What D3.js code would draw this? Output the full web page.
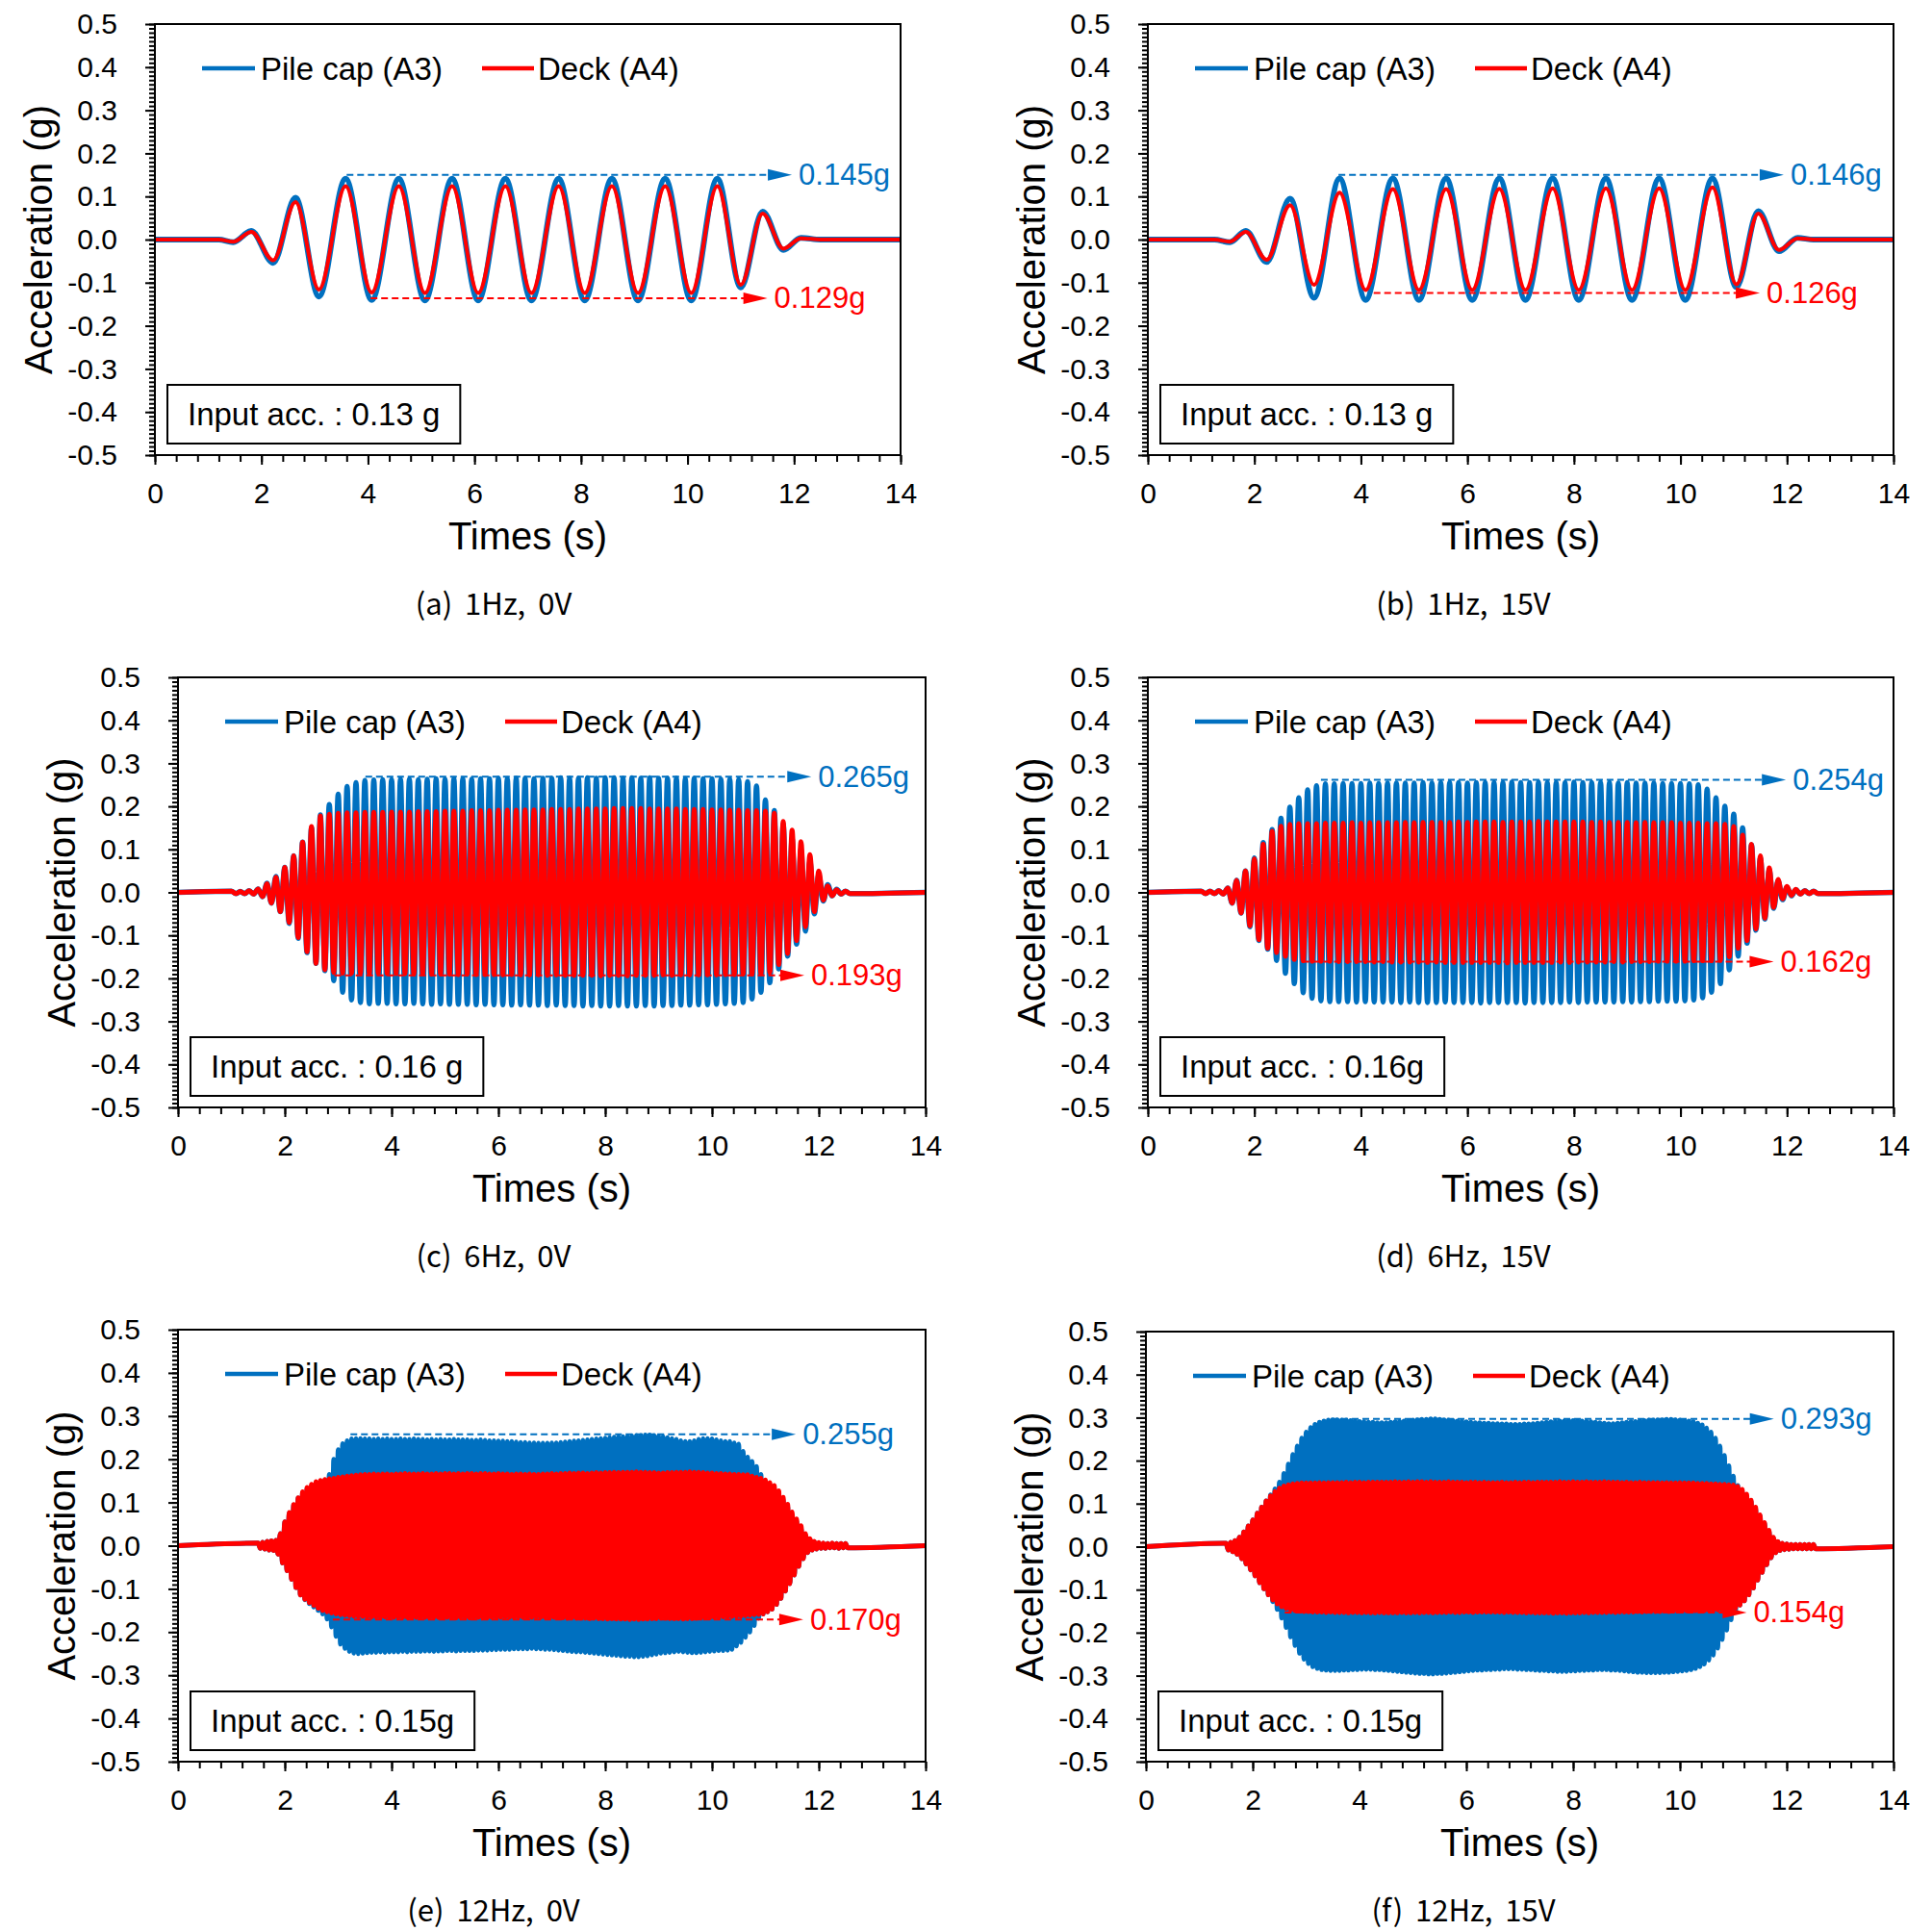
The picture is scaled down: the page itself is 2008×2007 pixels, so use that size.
<!DOCTYPE html>
<html>
<head>
<meta charset="utf-8">
<script src="https://cdn.jsdelivr.net/npm/d3@7"></script>
<style>
  body { margin: 0; background: #fff; }
  svg { display: block; }
</style>
</head>
<body>
<div id="fig"></div>
<script>
// ---- axes / labels ----
const yTicks = [-0.5, -0.4, -0.3, -0.2, -0.1, 0, 0.1, 0.2, 0.3, 0.4, 0.5];
const yTickLabels = ["-0.5", "-0.4", "-0.3", "-0.2", "-0.1", "0.0", "0.1", "0.2", "0.3", "0.4", "0.5"];
const xTicks = [0, 2, 4, 6, 8, 10, 12, 14];
const xTickLabels = ["0", "2", "4", "6", "8", "10", "12", "14"];
const seriesNames = ["Pile cap (A3)", "Deck (A4)"];
const captions = ["(a) 1Hz, 0V", "(b) 1Hz, 15V", "(c) 6Hz, 0V", "(d) 6Hz, 15V", "(e) 12Hz, 0V", "(f) 12Hz, 15V"];
const inputLabels = ["Input acc. : 0.13 g", "Input acc. : 0.13 g", "Input acc. : 0.16 g", "Input acc. : 0.16g", "Input acc. : 0.15g", "Input acc. : 0.15g"];

// ---- 1 Hz records: times of the extrema (s) and values (g) ----
const a_time = [0, 1.2, 1.47, 1.81, 2.22, 2.64, 3.08, 3.58, 4.07, 4.58, 5.07, 5.58, 6.07, 6.58, 7.07, 7.58, 8.07, 8.58, 9.07, 9.58, 10.07, 10.56, 11.0, 11.41, 11.8, 12.13, 12.5, 14];
const a_blue = [0, 0, -0.006, 0.02, -0.054, 0.097, -0.132, 0.141, -0.14, 0.141, -0.141, 0.141, -0.141, 0.141, -0.141, 0.141, -0.141, 0.141, -0.141, 0.141, -0.141, 0.141, -0.111, 0.065, -0.024, 0.004, 0, 0];
const a_red = [0, 0, -0.005, 0.018, -0.048, 0.087, -0.116, 0.124, -0.123, 0.124, -0.124, 0.124, -0.124, 0.124, -0.124, 0.124, -0.124, 0.124, -0.124, 0.124, -0.124, 0.124, -0.105, 0.06, -0.021, 0.003, 0, 0];

const b_time = [0, 1.25, 1.54, 1.84, 2.23, 2.67, 3.12, 3.6, 4.09, 4.6, 5.09, 5.6, 6.09, 6.6, 7.09, 7.6, 8.09, 8.6, 9.09, 9.6, 10.09, 10.6, 11.05, 11.46, 11.85, 12.2, 12.5, 14];
const b_blue = [0, 0, -0.006, 0.02, -0.052, 0.095, -0.135, 0.142, -0.14, 0.142, -0.14, 0.142, -0.14, 0.142, -0.14, 0.142, -0.14, 0.142, -0.14, 0.142, -0.14, 0.142, -0.11, 0.066, -0.027, 0.004, 0, 0];
const b_red = [0, 0, -0.005, 0.018, -0.047, 0.08, -0.105, 0.109, -0.117, 0.117, -0.117, 0.117, -0.117, 0.118, -0.117, 0.119, -0.117, 0.119, -0.117, 0.119, -0.117, 0.121, -0.104, 0.06, -0.024, 0.003, 0, 0];

// ---- 6 Hz records: one peak (hi) and one trough (lo) per cycle, in mg, from t0 ----
const c_t0 = 1.0, d_t0 = 1.0, freq6 = 6;
const c_blueHi = [3,2,4,8,21,37,58,85,117,150, 180,204,228,246,255,260,
  261,262,262,263,263,262,263,264,263,264, 264,263,264,264,265,264,265,265,264,265,
  265,266,265,265,266,265,266,266,265,266, 265,266,265,265,265,264,265,264,264,263, 263,
  262,257,247,215,190,158,125,100,72,40,18,7,3];
const c_blueLo = [-3,-3,-4,-10,-25,-45,-72,-107,-140,-165, -182,-205,-232,-250,-256,-259,
  -258,-258,-259,-259,-258,-259,-260,-259,-260,-260, -260,-261,-260,-261,-261,-262,-261,-262,-262,-263,
  -262,-263,-263,-264,-263,-264,-264,-263,-264,-264, -263,-264,-263,-263,-262,-262,-261,-261,-260,-259, -258,
  -256,-248,-232,-210,-178,-148,-120,-90,-50,-20,-8,-4,-3];
const c_redHi = [3,2,4,8,20,35,58,85,117,153, 178,182,184,
  185,185,186,186,186,187,187,187,188,188, 188,189,189,189,190,190,190,191,191,191,
  192,192,192,193,193,193,194,194,194,194, 195,195,195,195,194,194,194,194,193,193, 193,
  192,192,191,191,190,190,189,184,165,145,118,88,50,15,6,3];
const c_redLo = [-3,-3,-4,-10,-25,-45,-70,-105,-138,-165, -180,-186,-188,
  -188,-188,-189,-188,-189,-189,-189,-190,-189,-190, -190,-190,-191,-190,-191,-191,-191,-192,-191,-192,
  -192,-192,-193,-192,-193,-193,-193,-193,-194,-193, -193,-194,-193,-193,-193,-192,-193,-192,-192,-192, -192,
  -192,-191,-191,-190,-190,-189,-186,-168,-142,-112,-80,-45,-18,-8,-4,-3];

const d_blueHi = [3,3,4,10,28,50,80,116,146,172, 198,220,238,248,252,
  252,253,253,253,254,253,254,254,254,254, 255,254,255,255,255,254,255,255,255,255,
  256,255,255,256,255,255,255,256,255,255, 255,255,254,255,254,254,254,253,253,253, 252,
  250,240,220,200,182,150,110,80,52,27,12,6,4,3];
const d_blueLo = [-3,-3,-4,-25,-48,-80,-112,-132,-158,-188, -212,-233,-246,-252,-254,
  -254,-254,-255,-254,-255,-255,-255,-256,-255,-256, -256,-256,-255,-256,-256,-256,-257,-256,-256,-256,
  -256,-257,-256,-256,-256,-256,-255,-256,-255,-255, -255,-255,-254,-255,-254,-254,-253,-253,-253,-252, -250,
  -245,-232,-212,-180,-148,-118,-88,-62,-37,-17,-8,-4,-3,-3];
const d_redHi = [3,3,4,10,28,50,78,112,142,154, 158,160,
  160,160,161,161,161,162,161,162,162,162, 162,163,162,163,163,163,163,164,163,164,
  164,164,163,164,164,164,165,164,164,164, 164,164,163,164,163,163,163,162,163,162, 162,162,161,161,161,160,160,
  158,153,133,112,85,57,30,14,7,4,3];
const d_redLo = [-3,-3,-4,-25,-48,-78,-110,-130,-140,-149, -156,-159,
  -160,-160,-160,-161,-161,-161,-161,-162,-161,-162, -162,-162,-162,-163,-162,-163,-163,-163,-163,-163,
  -163,-163,-164,-163,-163,-163,-163,-163,-162,-163, -162,-162,-162,-162,-161,-162,-161,-161,-161,-160, -160,-160,-160,-159,-159,-159,
  -158,-150,-130,-112,-85,-60,-35,-15,-7,-4,-3,-3];

// ---- 12 Hz records: one peak (hi) and one trough (lo) per cycle, in mg, from t0 ----
const e_t0 = 1.5, f_t0 = 1.5, freq12 = 12;
const e_blueHi = [6,8,10,11,12, 28,55,76,94,110, 122,132,138,143,147, 152,165,200,222,236, 243,247,248,248,247,
  247,246,247,246,247,246,246,247,246,246,247,
  246,246,245,246,245,246,245,245,246,245,245,245,
  244,244,245,244,243,243,242,242,241,241,240,239,
  239,238,238,237,237,237,238,238,239,240,241,242,
  243,244,245,246,247,248,249,250,251,252,252,253,
  254,255,255,256,256,255,254,252,250,248,246,243,
  241,241,243,246,248,248,247,245,243,241,241,238,
  235,218, 205,195,183,165,150, 140,132,120,105,90, 72,56,40,24,14, 9,6,5,5,5,5,5,5];
const e_blueLo = [-6,-8,-10,-11,-20, -40,-58,-78,-97,-114, -125,-134,-142,-150,-158, -170,-188,-210,-228,-238, -245,-249,-250,-249,-248,
  -247,-247,-246,-247,-246,-246,-246,-245,-246,-245,-245,
  -245,-244,-244,-245,-244,-244,-243,-243,-244,-243,-243,-243,
  -243,-242,-242,-242,-241,-241,-240,-240,-240,-239,-239,-239,
  -239,-238,-239,-239,-240,-240,-241,-242,-243,-244,-245,-246,
  -246,-247,-248,-249,-250,-251,-252,-253,-254,-255,-256,-256,
  -257,-257,-256,-255,-253,-251,-249,-248,-247,-246,-245,-246,
  -247,-248,-248,-247,-246,-245,-244,-243,-243,-242,-240,-232,
  -224,-212, -200,-185,-168,-158,-153, -147,-136,-122,-105,-88, -68,-48,-30,-16,-10, -8,-6,-6,-5,-5,-6,-5,-5];
const e_redHi = [6,8,10,11,12, 28,55,77,95,111, 125,135,142,148,151, 153,155,156,158,159, 161,162,163,164,165,
  165,166,165,166,166,165,166,166,167,166,166,
  166,167,166,166,167,166,167,167,166,167,166,167,
  167,166,167,167,166,166,167,166,166,165,166,166,
  165,166,165,165,166,166,167,166,167,167,168,167,
  168,168,167,168,169,168,169,169,170,169,170,170,
  170,171,170,170,169,169,168,168,169,169,170,170,
  170,171,170,170,169,168,168,167,167,166,166,165,
  165,164, 164,161,158,156,152, 146,139,127,112,96, 78,62,46,28,16, 10,7,6,5,6,5,5,5];
const e_redLo = [-6,-8,-10,-11,-20, -40,-58,-78,-97,-114, -124,-132,-138,-145,-150, -153,-156,-158,-160,-161, -162,-163,-164,-164,-165,
  -165,-165,-166,-165,-166,-166,-165,-166,-166,-167,-166,
  -166,-166,-167,-166,-166,-167,-166,-166,-167,-166,-166,-167,
  -166,-166,-167,-167,-166,-166,-166,-165,-166,-166,-165,-166,
  -166,-166,-165,-166,-166,-167,-166,-167,-167,-168,-167,-168,
  -168,-168,-169,-168,-169,-169,-170,-169,-170,-170,-170,-171,
  -170,-171,-170,-170,-169,-169,-168,-168,-169,-169,-169,-170,
  -169,-169,-168,-168,-167,-167,-166,-166,-165,-165,-164,-164,
  -163,-162, -161,-160,-159,-158,-153, -147,-136,-122,-105,-88, -68,-48,-30,-16,-10, -8,-6,-6,-5,-5,-6,-5,-5];

const f_blueHi = [8,10,14,22,34, 48,62,78,92,106, 120,134,150,170,192, 214,234,252,266,277, 284,289,292,294,295,
  295,294,294,293,292,291,290,289,289,288,288,
  288,289,290,291,292,293,294,295,296,296,297,297,
  296,295,294,293,292,291,290,289,288,288,287,287,
  286,286,285,285,284,284,284,285,285,286,287,288,
  289,290,291,292,292,293,293,293,292,291,290,289,
  288,287,286,286,287,288,289,290,291,292,293,294,
  294,295,295,296,296,295,294,293,292,290,287,283,
  276,266, 252,234,212,188,164, 142,128,116,104,90, 72,54,36,20,11, 7,6,5,5,5,5,5,5];
const f_blueLo = [-8,-12,-18,-28,-40, -54,-68,-84,-98,-112, -128,-146,-166,-188,-210, -230,-248,-262,-272,-279, -283,-286,-287,-288,-288,
  -288,-287,-287,-286,-286,-285,-285,-285,-286,-286,-287,
  -288,-289,-290,-291,-292,-293,-294,-295,-295,-296,-296,-295,
  -295,-294,-293,-292,-291,-290,-289,-288,-287,-287,-286,-286,
  -285,-285,-284,-284,-284,-285,-285,-286,-286,-287,-288,-288,
  -289,-289,-290,-290,-290,-289,-289,-288,-288,-287,-287,-286,
  -286,-286,-287,-287,-288,-289,-290,-291,-292,-292,-293,-293,
  -293,-293,-292,-292,-291,-290,-289,-288,-286,-283,-279,-273,
  -264,-252, -236,-216,-194,-170,-150, -136,-126,-112,-96,-78, -60,-42,-26,-14,-9, -7,-6,-5,-5,-5,-5,-5,-5];
const f_redHi = [8,10,14,22,34, 48,62,78,92,106, 118,128,136,141,144, 146,147,148,148,148, 148,149,148,149,149,
  149,149,150,149,150,150,149,150,150,150,150,
  150,150,151,150,150,151,150,151,151,150,151,150,
  150,150,151,150,150,150,149,150,150,149,150,149,
  149,149,150,149,149,150,149,150,150,149,150,150,
  150,150,150,151,150,150,151,150,150,151,150,150,
  150,151,150,150,150,149,150,149,149,150,149,149,
  149,149,148,149,148,148,149,148,148,148,147,147,
  147,146, 146,145,145,144,143, 140,133,122,108,92, 74,56,38,22,12, 8,6,5,5,5,5,5,5];
const f_redLo = [-8,-12,-18,-28,-40, -54,-68,-84,-98,-112, -124,-133,-140,-144,-147, -149,-150,-151,-151,-152, -152,-152,-153,-152,-153,
  -153,-153,-154,-153,-153,-154,-153,-154,-154,-153,-154,
  -154,-154,-154,-153,-154,-154,-153,-154,-153,-153,-154,-153,
  -153,-153,-152,-153,-153,-152,-152,-153,-152,-152,-152,-152,
  -152,-152,-153,-152,-153,-153,-153,-154,-153,-154,-154,-154,
  -154,-155,-154,-154,-155,-154,-154,-154,-153,-154,-153,-153,
  -153,-153,-152,-153,-152,-152,-152,-152,-151,-152,-151,-151,
  -151,-151,-150,-151,-150,-150,-150,-149,-150,-149,-149,-149,
  -148,-148, -147,-147,-146,-145,-142, -136,-126,-112,-96,-78, -60,-42,-26,-14,-9, -7,-6,-5,-5,-5,-5,-5,-5];

// ---- peak annotations: [series, level (g), start (s), arrow tip (s), label] ----
const a_notes = [["blue", 0.150, 3.6, 11.96, "0.145g"], ["red", -0.136, 4.05, 11.5, "0.129g"]];
const b_notes = [["blue", 0.150, 3.58, 11.94, "0.146g"], ["red", -0.124, 4.24, 11.49, "0.126g"]];
const c_notes = [["blue", 0.269, 3.51, 11.86, "0.265g"], ["red", -0.193, 2.93, 11.73, "0.193g"]];
const d_notes = [["blue", 0.262, 3.25, 11.98, "0.254g"], ["red", -0.161, 2.9, 11.75, "0.162g"]];
const e_notes = [["blue", 0.258, 3.23, 11.57, "0.255g"], ["red", -0.171, 2.9, 11.71, "0.170g"]];
const f_notes = [["blue", 0.297, 3.46, 11.76, "0.293g"], ["red", -0.153, 2.6, 11.25, "0.154g"]];

// ---------------------------------------------------------------------------
const W = 2008, H = 2007;
const BLUE = "#0070C0", RED = "#FF0000";
const FONT = "'Liberation Sans', Arial, sans-serif";

const svg = d3.select("#fig").append("svg")
  .attr("width", W)
  .attr("height", H)
  .style("background", "#fff");

function pairs(times, values) {
  return times.map((t, i) => ({ t, v: values[i] }));
}

// interleave per-cycle peaks and troughs
function cycles(t0, freq, hi, lo) {
  const pts = [{ t: 0, v: 0 }];
  const n = Math.min(hi.length, lo.length);
  for (let k = 0; k < n; k++) {
    pts.push({ t: t0 + k / freq, v: hi[k] / 1000 });
    pts.push({ t: t0 + (k + 0.5) / freq, v: lo[k] / 1000 });
  }
  pts.push({ t: 14, v: 0 });
  return pts;
}

const panels = [
  { box: [161, 25, 775, 448], col: 0, blue: pairs(a_time, a_blue), red: pairs(a_time, a_red), bw: 6, rw: 4, notes: a_notes },
  { box: [1193, 25, 775, 448], col: 1, blue: pairs(b_time, b_blue), red: pairs(b_time, b_red), bw: 6, rw: 4, notes: b_notes },
  { box: [185, 704, 777, 447], col: 0, blue: cycles(c_t0, freq6, c_blueHi, c_blueLo), red: cycles(c_t0, freq6, c_redHi, c_redLo), bw: 5.5, rw: 5, notes: c_notes },
  { box: [1193, 704, 775, 447], col: 1, blue: cycles(d_t0, freq6, d_blueHi, d_blueLo), red: cycles(d_t0, freq6, d_redHi, d_redLo), bw: 5.5, rw: 5, notes: d_notes },
  { box: [185, 1382, 777, 449], col: 0, blue: cycles(e_t0, freq12, e_blueHi, e_blueLo), red: cycles(e_t0, freq12, e_redHi, e_redLo), bw: 5, rw: 5, notes: e_notes },
  { box: [1191, 1384, 777, 447], col: 1, blue: cycles(f_t0, freq12, f_blueHi, f_blueLo), red: cycles(f_t0, freq12, f_redHi, f_redLo), bw: 5, rw: 5, notes: f_notes }
];

const yMinor = d3.range(-50, 51).map(i => i / 100);
const xMinor = d3.range(0, 36).map(i => i * 0.4);

function styleAxis(g) {
  g.select(".domain").remove();
  g.selectAll(".tick line").attr("stroke", "#000").attr("stroke-width", 2);
  g.selectAll(".tick text")
    .attr("fill", "#000")
    .style("font-family", FONT)
    .style("font-size", "30px");
}

panels.forEach((p, idx) => {
  const [L, T, w, h] = p.box;
  const B = T + h;
  const x = d3.scaleLinear().domain([0, 14]).range([L, L + w]);
  const y = d3.scaleLinear().domain([-0.5, 0.5]).range([B, T]);
  const g = svg.append("g");

  // Trục Y: minor + major
  g.append("g").attr("transform", `translate(${L},0)`)
    .call(d3.axisLeft(y).tickValues(yMinor).tickSize(6).tickFormat(""))
    .call(styleAxis);
  g.append("g").attr("transform", `translate(${L},0)`)
    .call(d3.axisLeft(y).tickValues(yTicks).tickSize(10).tickPadding(29)
      .tickFormat((d, i) => yTickLabels[i]))
    .call(styleAxis);

  // Trục X: minor + major
  g.append("g").attr("transform", `translate(0,${B})`)
    .call(d3.axisBottom(x).tickValues(xMinor).tickSize(7).tickFormat(""))
    .call(styleAxis);
  g.append("g").attr("transform", `translate(0,${B})`)
    .call(d3.axisBottom(x).tickValues(xTicks).tickSize(10).tickPadding(19)
      .tickFormat((d, i) => xTickLabels[i]))
    .call(styleAxis);

  // series
  const line = d3.line().x(d => x(d.t)).y(d => y(d.v)).curve(d3.curveMonotoneX);
  g.append("path").datum(p.blue)
    .attr("d", line).attr("fill", "none")
    .attr("stroke", BLUE).attr("stroke-width", p.bw).attr("stroke-linejoin", "round");
  g.append("path").datum(p.red)
    .attr("d", line).attr("fill", "none")
    .attr("stroke", RED).attr("stroke-width", p.rw).attr("stroke-linejoin", "round");

  // frame
  g.append("rect")
    .attr("x", L).attr("y", T).attr("width", w).attr("height", h)
    .attr("fill", "none").attr("stroke", "#000").attr("stroke-width", 2);

  // annotations
  p.notes.forEach(([s, lv, t1, t2, label]) => {
    const col = s === "blue" ? BLUE : RED;
    const yy = y(lv), xt = x(t2);
    g.append("line")
      .attr("x1", x(t1)).attr("x2", xt - 22).attr("y1", yy).attr("y2", yy)
      .attr("stroke", col).attr("stroke-width", 2).attr("stroke-dasharray", "7,4");
    g.append("path")
      .attr("d", `M${xt},${yy}L${xt - 25},${yy - 6}L${xt - 25},${yy + 6}Z`)
      .attr("fill", col);
    g.append("text")
      .attr("x", xt + 7).attr("y", yy)
      .attr("dominant-baseline", "central")
      .attr("fill", col)
      .style("font-family", FONT).style("font-size", "31px")
      .text(label);
  });

  // legend
  [[BLUE, 49, 104, 110], [RED, 340, 394, 398]].forEach(([col, x1, x2, tx], i) => {
    g.append("line")
      .attr("x1", L + x1).attr("x2", L + x2).attr("y1", T + 46).attr("y2", T + 46)
      .attr("stroke", col).attr("stroke-width", 4.5);
    g.append("text")
      .attr("x", L + tx).attr("y", T + 46)
      .attr("dominant-baseline", "central")
      .attr("fill", "#000")
      .style("font-family", FONT).style("font-size", "33px")
      .text(seriesNames[i]);
  });

  // input box
  const box = g.append("rect")
    .attr("x", L + 13).attr("y", B - 12 - 61).attr("height", 61)
    .attr("fill", "#fff").attr("stroke", "#000").attr("stroke-width", 2);
  const it = g.append("text")
    .attr("x", L + 13 + 21).attr("y", B - 12 - 30.5)
    .attr("dominant-baseline", "central")
    .attr("fill", "#000")
    .style("font-family", FONT).style("font-size", "33px")
    .text(inputLabels[idx]);
  box.attr("width", it.node().getComputedTextLength() + 42);

  // axis titles
  g.append("text")
    .attr("x", L + w / 2).attr("y", B + 98)
    .attr("text-anchor", "middle")
    .style("font-family", FONT).style("font-size", "40px")
    .text("Times (s)");
  g.append("text")
    .attr("transform", `translate(${L - 107},${T + h / 2}) rotate(-90)`)
    .attr("text-anchor", "middle")
    .style("font-family", FONT).style("font-size", "40px")
    .text("Acceleration (g)");

  // caption
  g.append("text")
    .attr("x", p.col === 0 ? 513 : 1521).attr("y", B + 166)
    .attr("text-anchor", "middle")
    .style("font-family", "'Noto Sans CJK KR', 'Noto Sans', sans-serif")
    .style("font-size", "31px")
    .style("word-spacing", "6px")
    .text(captions[idx]);
});
</script>
</body>
</html>
